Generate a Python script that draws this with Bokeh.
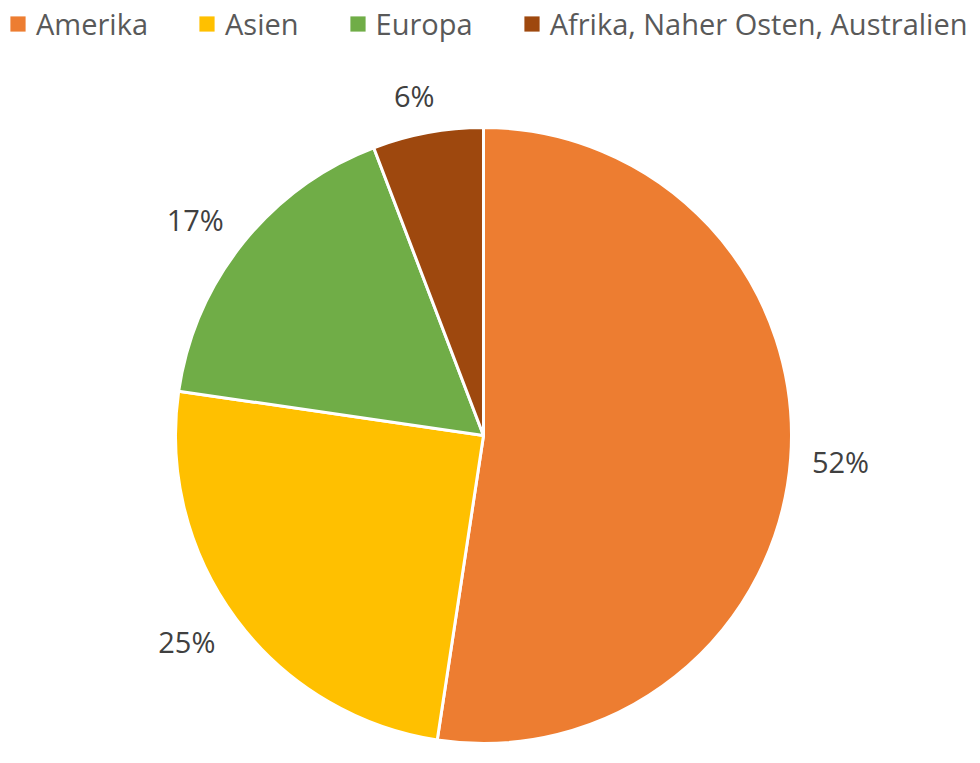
import numpy as np
from bokeh.plotting import figure
from bokeh.models import ColumnDataSource, Legend, LegendItem, Range1d
from bokeh.core.properties import value
from bokeh.embed import file_html
from bokeh.resources import INLINE

# ---- data ----
regions = ["Amerika", "Asien", "Europa", "Afrika, Naher Osten, Australien"]
shares = [52.4, 24.9, 16.9, 5.8]
labels = ["52%", "25%", "17%", "6%"]
colors = ["#ED7D31", "#FFC000", "#70AD47", "#9E480E"]

W, H = 970, 747
FONT = "Open Sans"
FS = 29

p = figure(width=W, height=H, output_backend="svg", toolbar_location=None,
           x_range=Range1d(0, W), y_range=Range1d(0, H), min_border=0)
p.axis.visible = False
p.grid.visible = False
p.outline_line_color = None
p.background_fill_color = "white"

cx, cy, R = 483, H - 435, 308
frac = np.array(shares) / sum(shares)
cum = np.concatenate([[0], np.cumsum(frac)])
start = np.pi / 2 - cum[:-1] * 2 * np.pi
end = np.pi / 2 - cum[1:] * 2 * np.pi
mid = np.pi / 2 - (cum[:-1] + frac / 2) * 2 * np.pi

src = ColumnDataSource(dict(region=regions, start=start, end=end, color=colors))
p.wedge(x=cx, y=cy, radius=R, start_angle="start", end_angle="end",
        direction="clock", fill_color="color", line_color="white",
        line_width=3, source=src)

# outside-end labels
gap = 27
hh = 11
hw = np.array([0.5 * (16.5 * (len(s) - 1) + 23) for s in labels])
dx, dy = np.cos(mid), np.sin(mid)
lx = cx + dx * (R + gap) + dx * hw - 5
ly = cy + dy * (R + gap) + dy * hh
lsrc = ColumnDataSource(dict(x=lx, y=ly, t=labels))
p.text(x="x", y="y", text="t", source=lsrc, text_align="center",
       text_baseline="middle", text_font=value(FONT),
       text_font_size=f"{FS}px", text_color="#404040")

# legend swatches (renderer with no visible marks on the plot)
nan = [np.nan] * len(regions)
sw = p.quad(left=nan, right=nan, top=nan, bottom=nan, fill_color=colors,
            line_color=None)
items = [LegendItem(label=reg, renderers=[sw], index=i) for i, reg in enumerate(regions)]
legend = Legend(items=items, orientation="horizontal", location=(8, H - 43),
                glyph_width=19, glyph_height=19, label_standoff=9, spacing=49,
                padding=0, margin=0, border_line_color=None,
                background_fill_alpha=0, label_text_font=FONT,
                label_text_font_size=f"{FS}px", label_text_color="#595959")
p.add_layout(legend, "center")

open("out.html", "w").write(file_html(p, INLINE))
